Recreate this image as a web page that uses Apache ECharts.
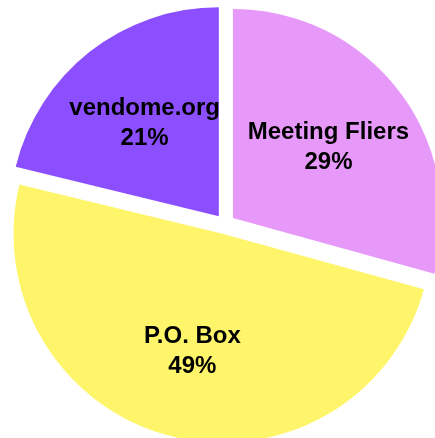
<!DOCTYPE html>
<html>
<head>
<meta charset="utf-8">
<style>
  html, body { margin: 0; padding: 0; background: #fff; }
  #chart { width: 435px; height: 438px; }
</style>
<script src="https://cdn.jsdelivr.net/npm/echarts@6/dist/echarts.min.js"></script>
</head>
<body>
<div id="chart"></div>
<script>
var categories = ['Meeting Fliers', 'P.O. Box', 'vendome.org']
var values = [29, 49, 21]
var colorList = ['#E699F8', '#FFF56B', '#8C4FFF']

var chart = echarts.init(document.getElementById('chart'))

function buildData(withColor) {
  return categories.map(function (name, i) {
    return {
      name: name,
      value: values[i],
      selected: true,
      itemStyle: { color: withColor ? colorList[i] : 'rgba(0,0,0,0)' }
    }
  })
}

var option = {
  animation: false,
  series: [
    {
      // the slices
      type: 'pie',
      center: [225, 224],
      radius: [0, 209],
      startAngle: 90,
      selectedMode: 'multiple',
      selectedOffset: 10,
      silent: true,
      label: { show: false },
      labelLine: { show: false },
      data: buildData(true)
    },
    {
      // labels only, a bit further out than the default inner spot
      type: 'pie',
      center: [225, 226],
      radius: [0, 234],
      startAngle: 90,
      selectedMode: 'multiple',
      selectedOffset: 10,
      silent: true,
      label: {
        show: true,
        position: 'inside',
        formatter: '{b}\n{c}%',
        fontFamily: 'Liberation Sans, Arial, sans-serif',
        fontWeight: 'bold',
        fontSize: 24,
        lineHeight: 30,
        color: '#000'
      },
      labelLine: { show: false },
      data: buildData(false)
    }
  ]
}
chart.setOption(option)
</script>
</body>
</html>
